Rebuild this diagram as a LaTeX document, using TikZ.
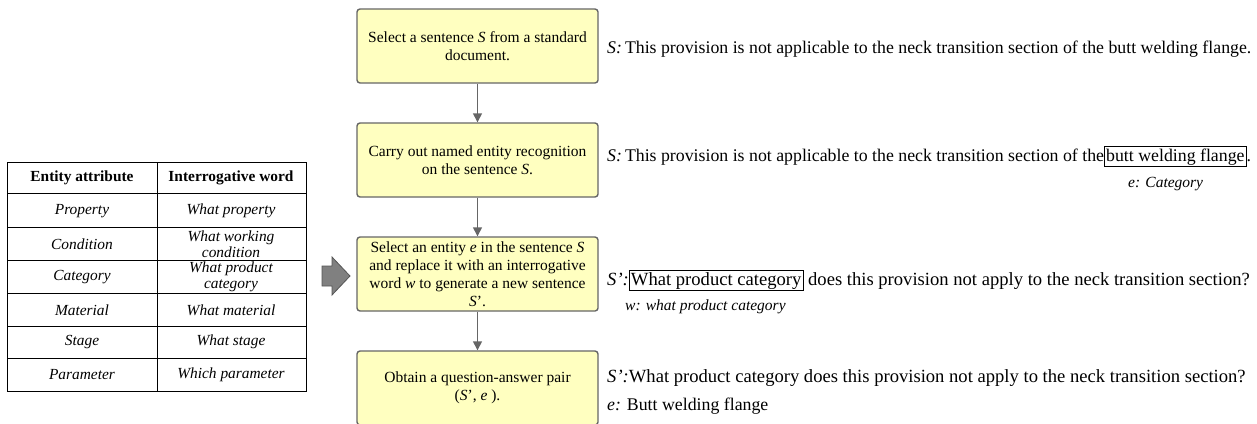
\documentclass[tikz,border=0pt]{standalone}
\usepackage{fontspec}
\setmainfont{Liberation Serif}
\usetikzlibrary{arrows.meta}
\definecolor{boxfill}{HTML}{FFFFC0}
\definecolor{boxline}{HTML}{666666}
\definecolor{bigarrow}{HTML}{808080}
\definecolor{bigarrowline}{HTML}{555555}
\setlength{\fboxsep}{1.2pt}
\setlength{\fboxrule}{0.9pt}

\begin{document}
\begin{tikzpicture}[x=1pt,y=-1pt,
  stepbox/.style={draw=boxline, line width=1.4pt, fill=boxfill, rounded corners=3pt,
    minimum width=241pt, minimum height=74pt, text width=228pt, align=flush center,
    font=\fontsize{15.5}{18}\selectfont, inner sep=0pt},
  flow/.style={draw=boxline, line width=1.4pt, -{Triangle[length=9pt,width=9pt]}},
  grid/.style={draw=black, line width=0.9pt},
  cell/.style={font=\fontsize{15.4}{16}\selectfont\itshape, align=center, inner sep=0pt},
  head/.style={font=\fontsize{15.4}{16}\selectfont\bfseries, inner sep=0pt},
  say/.style={anchor=base west, font=\fontsize{17.8}{20}\selectfont, inner sep=0pt},
  ask/.style={anchor=base west, font=\fontsize{18.6}{21}\selectfont, inner sep=0pt},
  note/.style={anchor=base west, font=\fontsize{15.5}{17}\selectfont\itshape, inner sep=0pt}]
\useasboundingbox (0,0) rectangle (1257,423);
\clip (0,0) rectangle (1257,423);

% ---------- attribute table ----------
\draw[grid] (7,162) rectangle (306,391);
\draw[grid] (157,162) -- (157,391);
\foreach \y in {193,227,260,293,326,358} \draw[grid] (7,\y) -- (306,\y);

\node[head] (h1) at (82,178) {Entity attribute};
\node[head] (h2) at (231,178) {Interrogative word};
\node[cell] (a1) at (82,211) {Property};
\node[cell] (b1) at (231,211) {What property};
\node[cell] (a2) at (82,244) {Condition};
\node[cell] (b2) at (231,244) {What working\\condition};
\node[cell] (a3) at (82,277) {Category};
\node[cell] (b3) at (231,277) {What product\\category};
\node[cell] (a4) at (82,310) {Material};
\node[cell] (b4) at (231,310) {What material};
\node[cell] (a5) at (82,342) {Stage};
\node[cell] (b5) at (231,342) {What stage};
\node[cell] (a6) at (82,375) {Parameter};
\node[cell] (b6) at (231,375) {Which parameter};

% ---------- block arrow from the table to step 3 ----------
\filldraw[fill=bigarrow, draw=bigarrowline, line width=0.8pt]
  (322,266) -- (332,266) -- (332,257) -- (350,276) -- (332,295) -- (332,286) -- (322,286) -- cycle;

% ---------- process steps ----------
\node[stepbox] (s1) at (477.5,46) {Select a sentence \textit{S} from a standard document.};
\node[stepbox] (s2) at (477.5,160) {Carry out named entity recognition on the sentence \textit{S}.};
\node[stepbox] (s3) at (477.5,274) {Select an entity \textit{e} in the sentence \textit{S} and replace it with an interrogative word \textit{w} to generate a new sentence \textit{S}’.};
\node[stepbox] (s4) at (477.5,388) {Obtain a question-answer pair\\(\textit{S}’, \textit{e} ).};

\draw[flow] (s1.south) -- (s2.north);
\draw[flow] (s2.south) -- (s3.north);
\draw[flow] (s3.south) -- (s4.north);

% ---------- example sentences ----------
\node[say] (t1) at (607,53) {\textit{S:}\,This provision is not applicable to the neck transition section of the butt welding flange.};
\node[say] (t2) at (607,161) {\textit{S:}\,This provision is not applicable to the neck transition section of the\fbox{butt welding flange}.};
\node[note] (n2) at (1128,187) {e: Category};
\node[ask] (t3) at (607,285) {\textit{S’:}\fbox{What product category} does this provision not apply to the neck transition section?};
\node[note] (n3) at (625,310) {w: what product category};
\node[ask] (t4) at (607,382) {\textit{S’:}What product category does this provision not apply to the neck transition section?};
\node[say] (n4) at (607,410) {\textit{e:} Butt welding flange};
\end{tikzpicture}
\end{document}
